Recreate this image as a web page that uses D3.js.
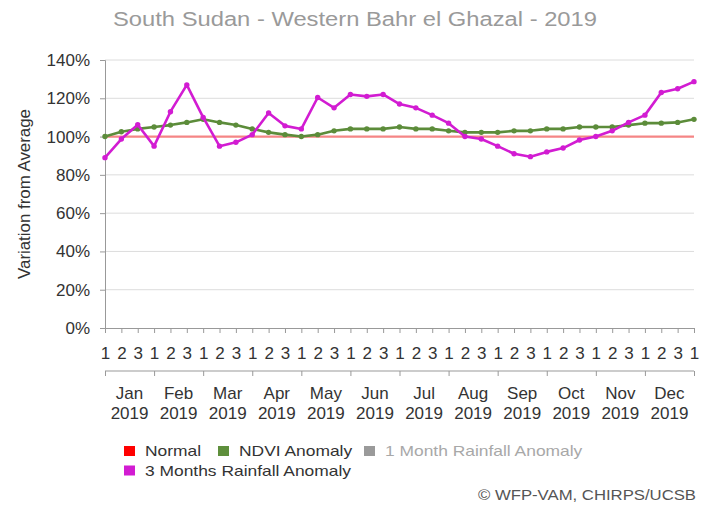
<!DOCTYPE html>
<html>
<head>
<meta charset="utf-8">
<script src="https://cdn.jsdelivr.net/npm/d3@7"></script>
<style>
  body { margin: 0; background: #fff; }
  text { font-family: "Liberation Sans", Arial, sans-serif; }
</style>
</head>
<body>
<div id="chart"></div>
<script>
// data
var months = ["Jan", "Feb", "Mar", "Apr", "May", "Jun", "Jul", "Aug", "Sep", "Oct", "Nov", "Dec"];
var year = "2019";
var dekadLabels = ["1", "2", "3"];
var yTicks = [0, 20, 40, 60, 80, 100, 120, 140];
var normal = [100, 100, 100, 100, 100, 100, 100, 100, 100, 100, 100, 100, 100, 100, 100, 100, 100, 100,
  100, 100, 100, 100, 100, 100, 100, 100, 100, 100, 100, 100, 100, 100, 100, 100, 100, 100, 100];
var ndvi = [100, 102.5, 104, 105, 106, 107.4, 109, 107.4, 106, 104, 102.2, 101, 100, 101, 103, 104, 104, 104,
  105, 104, 104, 103, 102.2, 102.2, 102.2, 103, 103, 104, 104, 105, 105, 105, 106, 107, 107, 107.4, 109];
var rain3 = [89, 98.7, 106.2, 95, 113, 127, 110, 95, 97, 101, 112.3, 105.6, 104, 120.4, 115, 122, 121, 122,
  117, 115, 111.2, 107, 100, 98.7, 95, 91, 89.5, 92, 94, 98.2, 100, 103, 107.4, 111.2, 123, 125, 128.7];
var legendNames = ["Normal", "NDVI Anomaly", "1 Month Rainfall Anomaly", "3 Months Rainfall Anomaly"];
var legendColors = ["#ff0000", "#5e8f3c", "#9a9a9a", "#d21cd2"];

var W = 711, H = 507;
var margin = {left: 105, right: 17, top: 60, bottom: 179};

var svg = d3.select("#chart").append("svg")
  .attr("width", W)
  .attr("height", H);

// the reference font renders wider than Liberation Sans, stretch a bit
function widen(sel, k) {
  sel.each(function() {
    var len = this.getComputedTextLength();
    d3.select(this).attr("textLength", len * k).attr("lengthAdjust", "spacingAndGlyphs");
  });
}

var x = d3.scaleLinear().domain([0, normal.length - 1]).range([margin.left, W - margin.right]);
var y = d3.scaleLinear().domain([0, 140]).range([H - margin.bottom, margin.top]);
var y0 = y(0);

// title
svg.append("text")
  .attr("x", 355).attr("y", 26)
  .attr("text-anchor", "middle")
  .attr("font-size", "20px")
  .attr("fill", "#9a9a9a")
  .attr("textLength", 484).attr("lengthAdjust", "spacingAndGlyphs")
  .text("South Sudan - Western Bahr el Ghazal - 2019");

// grid
svg.append("g").selectAll("line")
  .data(yTicks.filter(function(d) { return d > 0; }))
  .enter().append("line")
  .attr("x1", x(0)).attr("x2", x(36))
  .attr("y1", function(d) { return y(d); })
  .attr("y2", function(d) { return y(d); })
  .attr("stroke", "#dcdcdc")
  .attr("stroke-width", 1);

// y axis
var yAxis = svg.append("g")
  .attr("transform", "translate(" + x(0) + ",0)")
  .call(d3.axisLeft(y).tickValues(yTicks).tickSize(5).tickPadding(10)
    .tickFormat(function(d) { return d + "%"; }));
yAxis.selectAll("path, line").attr("stroke", "#999");
yAxis.selectAll("text").attr("font-size", "17px").attr("fill", "#333")
  .attr("font-family", "Liberation Sans, Arial, sans-serif");

svg.append("text")
  .attr("transform", "translate(30," + ((margin.top + y0) / 2) + ") rotate(-90)")
  .attr("text-anchor", "middle")
  .attr("font-size", "16px")
  .attr("fill", "#333")
  .attr("textLength", 170).attr("lengthAdjust", "spacingAndGlyphs")
  .text("Variation from Average");

// x axis: dekads
var idx = d3.range(normal.length);
var xAxis = svg.append("g")
  .attr("transform", "translate(0," + y0 + ")")
  .call(d3.axisBottom(x).tickValues(idx).tickSize(5).tickPadding(14)
    .tickFormat(function(d) { return dekadLabels[d % 3]; }));
xAxis.selectAll("path, line").attr("stroke", "#999");
xAxis.selectAll("text").attr("font-size", "17px").attr("fill", "#333")
  .attr("font-family", "Liberation Sans, Arial, sans-serif");

// x axis: months
var mAxis = svg.append("g")
  .attr("transform", "translate(0," + (y0 + 43) + ")")
  .call(d3.axisBottom(x).tickValues(d3.range(0, 37, 3)).tickSize(5).tickFormat(""));
mAxis.select(".domain").attr("d", "M" + x(0) + ",0H" + x(36)).attr("stroke", "#999");
mAxis.selectAll("line").attr("stroke", "#999");

var mLabels = svg.append("g").selectAll("text")
  .data(months)
  .enter().append("text")
  .attr("x", function(d, i) { return x(i * 3 + 1.5); })
  .attr("y", y0 + 71)
  .attr("text-anchor", "middle")
  .attr("font-size", "17px")
  .attr("fill", "#333");
mLabels.append("tspan").attr("x", function(d, i) { return x(i * 3 + 1.5); }).text(function(d) { return d; });
mLabels.append("tspan").attr("x", function(d, i) { return x(i * 3 + 1.5); }).attr("dy", 20).text(year);

// lines
var line = d3.line().x(function(d, i) { return x(i); }).y(function(d) { return y(d); });

svg.append("path").datum(normal)
  .attr("d", line).attr("fill", "none")
  .attr("stroke", "#f58585").attr("stroke-width", 2.2);

var series = [
  {vals: ndvi, color: "#5c8c3a"},
  {vals: rain3, color: "#d21cd2"}
];
series.forEach(function(s) {
  svg.append("path").datum(s.vals)
    .attr("d", line).attr("fill", "none")
    .attr("stroke", s.color).attr("stroke-width", 2.6)
    .attr("stroke-linejoin", "round");
  svg.append("g").selectAll("circle")
    .data(s.vals)
    .enter().append("circle")
    .attr("cx", function(d, i) { return x(i); })
    .attr("cy", function(d) { return y(d); })
    .attr("r", 2.7)
    .attr("fill", s.color);
});

// legend: two rows, swatch x positions taken from the original layout
var lgPos = [[124, 456], [218, 456], [364, 456], [124, 475.5]];
legendNames.forEach(function(name, i) {
  var p = lgPos[i];
  svg.append("rect")
    .attr("x", p[0]).attr("y", p[1] - 10)
    .attr("width", 11).attr("height", 10)
    .attr("fill", legendColors[i]);
  var t = svg.append("text")
    .attr("x", p[0] + 21).attr("y", p[1])
    .attr("font-size", "15px")
    .attr("fill", i === 2 ? "#a8a8a8" : "#333")
    .text(name);
  widen(t, 1.16);
});

svg.append("text")
  .attr("x", 696).attr("y", 500)
  .attr("text-anchor", "end")
  .attr("font-size", "14px")
  .attr("fill", "#555")
  .attr("textLength", 218).attr("lengthAdjust", "spacingAndGlyphs")
  .text("\u00a9 WFP-VAM, CHIRPS/UCSB");
</script>
</body>
</html>
